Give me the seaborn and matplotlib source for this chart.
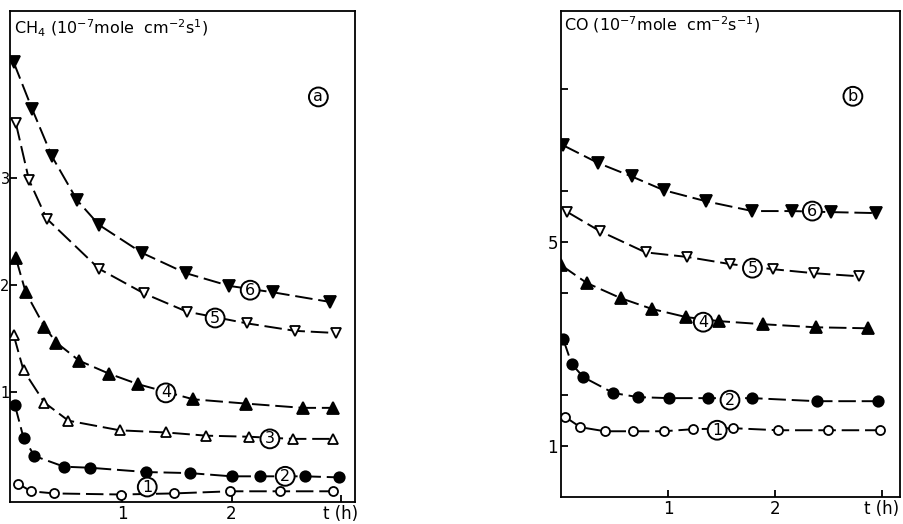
import matplotlib
matplotlib.use("Agg")
import matplotlib.pyplot as plt
import seaborn as sns

sns.set_theme(style="white")
plt.rcParams["font.family"] = ["DejaVu Sans"]
plt.rcParams["mathtext.default"] = "regular"
plt.rcParams["text.color"] = "black"
plt.rcParams["axes.labelcolor"] = "black"
plt.rcParams["xtick.color"] = "black"
plt.rcParams["ytick.color"] = "black"

# ---- Panel (a): CH4 production rate vs time ----
ch4_t1 = [0.05, 0.17, 0.38, 0.99, 1.47, 1.99, 2.44, 2.93]
ch4_v1 = [0.14, 0.07, 0.05, 0.04, 0.05, 0.07, 0.07, 0.07]
ch4_t2 = [0.02, 0.10, 0.20, 0.47, 0.71, 1.22, 1.62, 2.00, 2.26, 2.67, 2.98]
ch4_v2 = [0.88, 0.57, 0.40, 0.30, 0.29, 0.25, 0.24, 0.21, 0.21, 0.21, 0.20]
ch4_t3 = [0.01, 0.10, 0.29, 0.51, 0.98, 1.40, 1.77, 2.16, 2.56, 2.93]
ch4_v3 = [1.53, 1.20, 0.90, 0.73, 0.64, 0.62, 0.59, 0.58, 0.56, 0.56]
ch4_t4 = [0.03, 0.12, 0.29, 0.40, 0.61, 0.88, 1.15, 1.65, 2.13, 2.65, 2.93]
ch4_v4 = [2.25, 1.93, 1.61, 1.46, 1.29, 1.17, 1.07, 0.93, 0.89, 0.85, 0.85]
ch4_t5 = [0.03, 0.15, 0.31, 0.79, 1.20, 1.59, 2.14, 2.58, 2.95]
ch4_v5 = [3.51, 2.98, 2.62, 2.15, 1.92, 1.75, 1.64, 1.57, 1.55]
ch4_t6 = [0.01, 0.18, 0.36, 0.59, 0.79, 1.18, 1.58, 1.98, 2.38, 2.90]
ch4_v6 = [4.08, 3.64, 3.20, 2.79, 2.56, 2.30, 2.11, 1.99, 1.93, 1.84]

# ---- Panel (b): CO production rate vs time ----
co_t1 = [0.04, 0.18, 0.41, 0.67, 0.96, 1.23, 1.61, 2.03, 2.50, 2.98]
co_v1 = [1.57, 1.37, 1.29, 1.29, 1.29, 1.33, 1.35, 1.31, 1.31, 1.31]
co_t2 = [0.02, 0.10, 0.21, 0.49, 0.72, 1.01, 1.37, 1.79, 2.39, 2.96]
co_v2 = [3.10, 2.61, 2.35, 2.04, 1.96, 1.94, 1.94, 1.94, 1.88, 1.88]
co_t4 = [0.00, 0.24, 0.56, 0.85, 1.17, 1.48, 1.89, 2.38, 2.87]
co_v4 = [4.55, 4.20, 3.90, 3.69, 3.53, 3.45, 3.39, 3.33, 3.31]
co_t5 = [0.06, 0.36, 0.79, 1.18, 1.58, 1.98, 2.37, 2.79]
co_v5 = [5.59, 5.22, 4.80, 4.71, 4.57, 4.47, 4.39, 4.33]
co_t6 = [0.02, 0.35, 0.66, 0.96, 1.36, 1.79, 2.16, 2.52, 2.95]
co_v6 = [6.90, 6.55, 6.29, 6.02, 5.80, 5.61, 5.61, 5.59, 5.57]

# curve number labels (t, value) placed on each curve
ch4_labels = {"1": (1.23, 0.11), "2": (2.49, 0.21), "3": (2.35, 0.56),
              "4": (1.40, 0.99), "5": (1.85, 1.69), "6": (2.17, 1.95)}
co_labels = {"1": (1.46, 1.31), "2": (1.58, 1.90), "4": (1.33, 3.43),
             "5": (1.79, 4.49), "6": (2.35, 5.61)}

x_ticks = [1, 2, 3]
x_ticklabels = ["1", "2", "t (h)"]

# marker style for each experiment number: (marker, filled, size)
styles = {
    "1": ("o", False, 6.5),
    "2": ("o", True, 7.5),
    "3": ("^", False, 7.5),
    "4": ("^", True, 8.0),
    "5": ("v", False, 7.5),
    "6": ("v", True, 8.0),
}

dash = (0, (9, 3))


def draw_curve(ax, t, v, key):
    marker, filled, ms = styles[key]
    sns.lineplot(x=t, y=v, ax=ax, color="black", linewidth=1.4,
                 linestyle=dash, marker=marker, markersize=ms,
                 markerfacecolor="black" if filled else "white",
                 markeredgecolor="black", markeredgewidth=1.3,
                 sort=False, estimator=None, zorder=3)


def circled(ax, x, y, s, coords="data", fs=11.5):
    kw = dict(ha="center", va="center", fontsize=fs, color="black", zorder=5,
              bbox=dict(boxstyle="circle,pad=0.12", fc="white", ec="black", lw=1.4))
    if coords == "axes":
        ax.text(x, y, s, transform=ax.transAxes, **kw)
    else:
        ax.text(x, y, s, **kw)


def style_axes(ax, ypad):
    for sp in ax.spines.values():
        sp.set_visible(True)
        sp.set_color("black")
        sp.set_linewidth(1.3)
    ax.tick_params(direction="in", length=5, width=1.3, colors="black",
                   labelsize=12, pad=2, left=True, bottom=True)
    ax.tick_params(axis="y", pad=ypad)
    ax.set_xticks(x_ticks)
    ax.set_xticklabels(x_ticklabels)
    ax.set_xlabel("")
    ax.set_ylabel("")


fig = plt.figure(figsize=(9.04, 5.24), dpi=100)
ax_a = fig.add_axes([0.0115, 0.042, 0.3815, 0.937])
ax_b = fig.add_axes([0.6206, 0.0515, 0.375, 0.927])

# panel (a)
for key, t, v in [("1", ch4_t1, ch4_v1), ("2", ch4_t2, ch4_v2),
                  ("3", ch4_t3, ch4_v3), ("4", ch4_t4, ch4_v4),
                  ("5", ch4_t5, ch4_v5), ("6", ch4_t6, ch4_v6)]:
    draw_curve(ax_a, t, v, key)
for key, (x, y) in ch4_labels.items():
    circled(ax_a, x, y, key)
ax_a.set_xlim(-0.02, 3.13)
ax_a.set_ylim(-0.03, 4.56)
style_axes(ax_a, ypad=0.5)
ax_a.set_yticks([1, 2, 3])
ax_a.set_yticklabels(["1", "2", "3"], fontsize=10.5)
ax_a.text(0.01, 0.965, "CH$_4$ (10$^{-7}$mole  cm$^{-2}$s$^{1}$)",
          transform=ax_a.transAxes, fontsize=11.5, ha="left", va="center")
circled(ax_a, 0.893, 0.825, "a", coords="axes", fs=11.5)

# panel (b)
for key, t, v in [("1", co_t1, co_v1), ("2", co_t2, co_v2),
                  ("4", co_t4, co_v4), ("5", co_t5, co_v5),
                  ("6", co_t6, co_v6)]:
    draw_curve(ax_b, t, v, key)
for key, (x, y) in co_labels.items():
    circled(ax_b, x, y, key)
ax_b.set_xlim(0, 3.17)
ax_b.set_ylim(0, 9.53)
style_axes(ax_b, ypad=2)
ax_b.set_yticks([1, 2, 3, 4, 5, 6, 7, 8])
ax_b.set_yticklabels(["1", "", "", "", "5", "", "", ""])
ax_b.text(0.01, 0.972, "CO (10$^{-7}$mole  cm$^{-2}$s$^{-1}$)",
          transform=ax_b.transAxes, fontsize=11.5, ha="left", va="center")
circled(ax_b, 0.861, 0.825, "b", coords="axes", fs=11.5)

fig.savefig("out.png", dpi=100, facecolor="white")
